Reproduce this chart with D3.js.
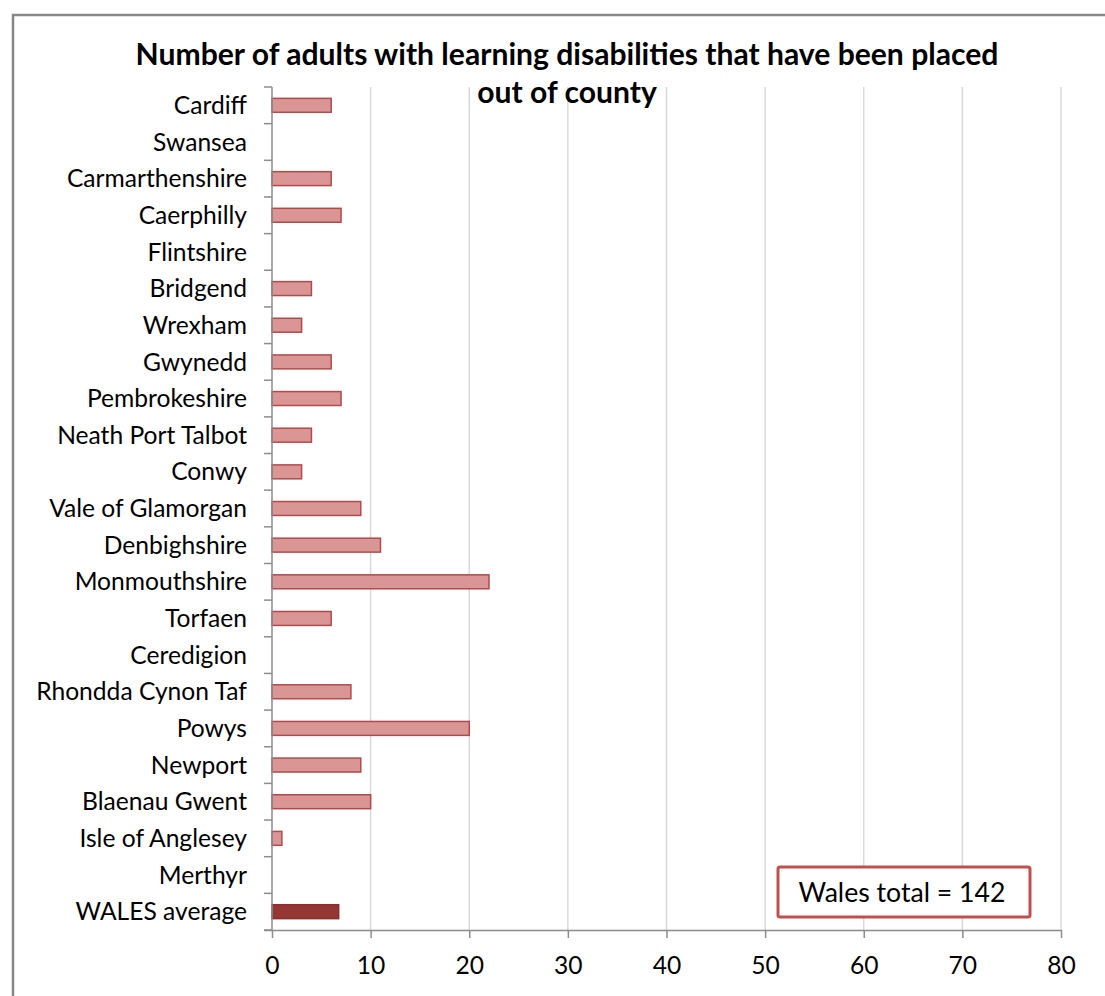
<!DOCTYPE html>
<html>
<head>
<meta charset="utf-8">
<script src="https://cdn.jsdelivr.net/npm/d3@7"></script>
<style>
  body { margin: 0; background: #fff; }
  svg text { font-family: Lato, "Open Sans", sans-serif; fill: #000; }
</style>
</head>
<body>
<svg id="chart" width="1105" height="996"></svg>
<script>
// data
var categories = ["Cardiff", "Swansea", "Carmarthenshire", "Caerphilly", "Flintshire",
  "Bridgend", "Wrexham", "Gwynedd", "Pembrokeshire", "Neath Port Talbot", "Conwy",
  "Vale of Glamorgan", "Denbighshire", "Monmouthshire", "Torfaen", "Ceredigion",
  "Rhondda Cynon Taf", "Powys", "Newport", "Blaenau Gwent", "Isle of Anglesey",
  "Merthyr", "WALES average"];
var values = [6, 0, 6, 7, 0, 4, 3, 6, 7, 4, 3, 9, 11, 22, 6, 0, 8, 20, 9, 10, 1, 0, 6.76];
var xTicks = [0, 10, 20, 30, 40, 50, 60, 70, 80];
var titleLines = ["Number of adults with learning disabilities that have been placed", "out of county"];
var totalLabel = "Wales total = 142";

var svg = d3.select("#chart");
var margin = {top: 87, right: 44, bottom: 66, left: 272};
var width = 1105 - margin.left - margin.right,
    height = 996 - margin.top - margin.bottom;

// outer frame (right & bottom edges run off the page)
svg.append("rect")
  .attr("x", 13).attr("y", 15)
  .attr("width", 1200).attr("height", 1200)
  .attr("fill", "none")
  .attr("stroke", "#878787")
  .attr("stroke-width", 2.5);

var g = svg.append("g").attr("transform", "translate(" + margin.left + "," + margin.top + ")");

var x = d3.scaleLinear().domain([0, 80]).range([0, width]);
var y = d3.scaleBand().domain(categories).range([0, height]).paddingInner(0.62).paddingOuter(0.31);

// gridlines
g.selectAll(".grid")
  .data(xTicks.slice(1))
  .enter().append("line")
  .attr("class", "grid")
  .attr("x1", function(d) { return x(d); })
  .attr("x2", function(d) { return x(d); })
  .attr("y1", 0).attr("y2", height)
  .attr("stroke", "#d9d9d9")
  .attr("stroke-width", 1.5);

// bars
g.selectAll(".bar")
  .data(values)
  .enter().append("rect")
  .attr("class", "bar")
  .attr("x", x(0))
  .attr("y", function(d, i) { return y(categories[i]); })
  .attr("width", function(d) { return x(d) - x(0); })
  .attr("height", y.bandwidth())
  .attr("fill", function(d, i) { return categories[i] == "WALES average" ? "#943634" : "#d99694"; })
  .attr("stroke", function(d, i) { return categories[i] == "WALES average" ? "#8a2f2d" : "#b04a4c"; })
  .attr("stroke-width", 1.5)
  .style("display", function(d) { return d > 0 ? null : "none"; });

// y axis: line, boundary ticks, labels
var bounds = d3.range(categories.length + 1).map(function(i) { return i * height / categories.length; });
g.append("line")
  .attr("x1", 0).attr("x2", 0).attr("y1", 0).attr("y2", height)
  .attr("stroke", "#8c8c8c").attr("stroke-width", 1.5);
g.selectAll(".ytick")
  .data(bounds)
  .enter().append("line")
  .attr("class", "ytick")
  .attr("x1", -8).attr("x2", 0)
  .attr("y1", function(d) { return d; }).attr("y2", function(d) { return d; })
  .attr("stroke", "#8c8c8c").attr("stroke-width", 1.5);

var ylabels = g.selectAll(".ylabel")
  .data(categories)
  .enter().append("text")
  .attr("class", "ylabel")
  .attr("x", -25)
  .attr("y", function(d) { return y(d) + y.bandwidth() / 2; })
  .attr("dy", "0.35em")
  .attr("text-anchor", "end")
  .style("font-size", "20px")
  .text(function(d) { return d; });

// fit label size to the reference width of "Rhondda Cynon Taf"
var probe = ylabels.filter(function(d) { return d == "Rhondda Cynon Taf"; }).node();
var labelSize = 20 * 211 / probe.getComputedTextLength();
ylabels.style("font-size", labelSize + "px");

// x axis
var xAxis = g.append("g")
  .attr("transform", "translate(0," + height + ")")
  .call(d3.axisBottom(x).tickValues(xTicks).tickSize(8).tickPadding(19).tickSizeOuter(0));
xAxis.select(".domain").attr("stroke", "#8c8c8c").attr("stroke-width", 1.5)
  .attr("d", "M-8,0.5H" + width);
xAxis.selectAll(".tick line").attr("stroke", "#8c8c8c").attr("stroke-width", 1.5);
xAxis.selectAll(".tick text")
  .style("font-size", labelSize + "px")
  .style("font-family", "Lato, 'Open Sans', sans-serif")
  .attr("fill", "#000");

// title
var title = svg.append("text")
  .attr("x", 567)
  .attr("y", 65)
  .attr("text-anchor", "middle")
  .style("font-weight", "bold")
  .style("font-size", "24px");
title.selectAll("tspan")
  .data(titleLines)
  .enter().append("tspan")
  .attr("x", 567)
  .text(function(d) { return d; });
var firstLine = title.select("tspan").node();
var titleSize = 24 * 863 / firstLine.getComputedTextLength();
title.style("font-size", titleSize + "px");
title.selectAll("tspan").attr("dy", function(d, i) { return i == 0 ? 0 : 38; });

// Wales total box
var box = svg.append("g");
box.append("rect")
  .attr("x", 778).attr("y", 867)
  .attr("width", 252).attr("height", 50)
  .attr("rx", 2)
  .attr("fill", "#fff")
  .attr("stroke", "#c0504d")
  .attr("stroke-width", 3);
var totalText = box.append("text")
  .attr("x", 902).attr("y", 893)
  .attr("dy", "0.35em")
  .attr("text-anchor", "middle")
  .style("font-size", "20px")
  .text(totalLabel);
totalText.style("font-size", (20 * 207 / totalText.node().getComputedTextLength()) + "px");
</script>
</body>
</html>
